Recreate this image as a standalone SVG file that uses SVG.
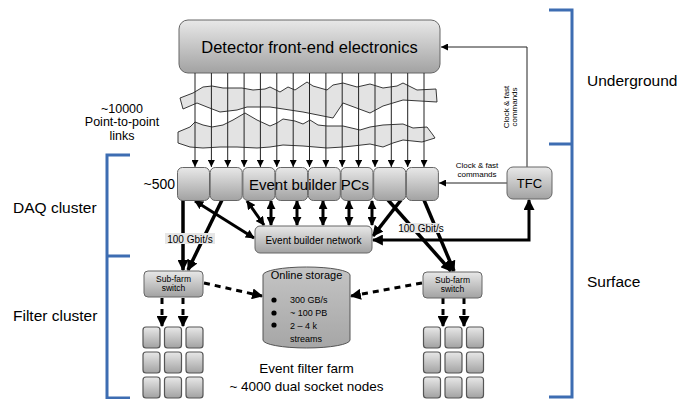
<svg xmlns="http://www.w3.org/2000/svg" width="679" height="399" viewBox="0 0 679 399">
<defs>
<linearGradient id="g" x1="0" y1="0" x2="0" y2="1">
<stop offset="0" stop-color="#e8e8e8"/>
<stop offset="1" stop-color="#a2a2a2"/>
</linearGradient>
<linearGradient id="gc" x1="0" y1="0" x2="0" y2="1">
<stop offset="0" stop-color="#c4c4c4"/>
<stop offset="1" stop-color="#a6a6a6"/>
</linearGradient>
<marker id="at" viewBox="0 0 10 10" markerWidth="7" markerHeight="7" markerUnits="userSpaceOnUse" refX="10" refY="5" orient="auto">
<path d="M0,0 L10,5 L0,10 z" fill="#000"/>
</marker>
<marker id="ab" viewBox="0 0 10 10" markerWidth="11" markerHeight="11" markerUnits="userSpaceOnUse" refX="9" refY="5" orient="auto-start-reverse">
<path d="M0,0 L10,5 L0,10 z" fill="#000"/>
</marker>
<marker id="am" viewBox="0 0 10 10" markerWidth="9" markerHeight="9" markerUnits="userSpaceOnUse" refX="9" refY="5" orient="auto-start-reverse">
<path d="M0,0 L10,5 L0,10 z" fill="#000"/>
</marker>
</defs>
<style>
text{font-family:"Liberation Sans",Arial,sans-serif;fill:#000}
.box{fill:url(#g);stroke:#666;stroke-width:1}
.node{fill:url(#g);stroke:#555;stroke-width:1.2}
.rib{fill:#e3e3e3;stroke:#222;stroke-width:0.9}
.thin{stroke:#222;stroke-width:1;fill:none}
.thick{stroke:#000;stroke-width:3.5;fill:none}
.dbl{stroke:#000;stroke-width:3;fill:none}
.dash{stroke:#000;stroke-width:3;fill:none;stroke-dasharray:6,5}
.br{stroke:#3d6db2;stroke-width:3;fill:none}
.lbl{fill:#e6e6e6}
</style>

<g id="ribbons">
<polygon class="rib" points="180,98 193,93 203,87 212,86 223,88 242,88 253,90 265,89 270,87 280,92 288,87 295,90 307,82 313,86 327,90 333,85 343,83 357,87 370,84 383,88 397,86 403,83 417,90 436,89 437,102 403,100 383,106 370,113 343,103 333,118 303,112 270,107 247,107 237,110 220,112 207,107 197,103 183,109"/>
<polygon class="rib" points="178,132 190,127 195,122 203,125 212,127 223,125 233,120 245,113 257,120 270,126 277,123 283,119 295,121 303,124 310,120 318,125 327,126 343,126 360,130 370,127 383,125 403,124 413,128 427,127 433,135 435,138 422,142 403,140 393,143 383,147 370,144 353,146 343,147 327,148 303,146 283,145 270,147 257,148 237,147 220,147 203,148 190,147 178,143"/>
</g>

<g id="detector">
<rect class="box" x="179" y="20" width="261" height="53" rx="9"/>
<text x="309.5" y="53" font-size="16.5" text-anchor="middle">Detector front-end electronics</text>
</g>

<g id="connectors">
<g class="thin" marker-end="url(#at)">
<line x1="195" y1="73" x2="195" y2="167"/>
<line x1="211.4" y1="73" x2="211.4" y2="167"/>
<line x1="227.7" y1="73" x2="227.7" y2="167"/>
<line x1="244.1" y1="73" x2="244.1" y2="167"/>
<line x1="260.4" y1="73" x2="260.4" y2="167"/>
<line x1="276.8" y1="73" x2="276.8" y2="167"/>
<line x1="293.2" y1="73" x2="293.2" y2="167"/>
<line x1="309.5" y1="73" x2="309.5" y2="167"/>
<line x1="325.9" y1="73" x2="325.9" y2="167"/>
<line x1="342.2" y1="73" x2="342.2" y2="167"/>
<line x1="358.6" y1="73" x2="358.6" y2="167"/>
<line x1="375" y1="73" x2="375" y2="167"/>
<line x1="391.3" y1="73" x2="391.3" y2="167"/>
<line x1="407.7" y1="73" x2="407.7" y2="167"/>
<line x1="424" y1="73" x2="424" y2="167"/>
</g>
<path class="thin" d="M527,167 L527,47 L441,47" marker-end="url(#at)"/>
<line class="thin" x1="507" y1="183" x2="439" y2="183" marker-end="url(#at)"/>

<g class="dbl" marker-start="url(#am)" marker-end="url(#am)">
<line x1="271" y1="201" x2="271" y2="225"/>
<line x1="297" y1="201" x2="297" y2="225"/>
<line x1="323" y1="201" x2="323" y2="225"/>
<line x1="349" y1="201" x2="349" y2="225"/>
<line x1="372" y1="201" x2="372" y2="225"/>
<line x1="247" y1="201" x2="264" y2="225"/>
<line x1="195" y1="201" x2="254" y2="238"/>
</g>
<path class="dbl" d="M373,240 L529,240 L529,200" marker-start="url(#ab)" marker-end="url(#ab)"/>
<g class="thick" marker-end="url(#ab)">
<line x1="183" y1="200" x2="183" y2="270"/>
<line x1="222" y1="200" x2="188" y2="270"/>
<line x1="401" y1="200" x2="373" y2="236"/>
<line x1="388" y1="200" x2="451" y2="271"/>
<line x1="424" y1="200" x2="454" y2="271"/>
</g>
<g class="dash" marker-end="url(#ab)">
<line x1="204" y1="283" x2="262" y2="296"/>
<line x1="422" y1="283" x2="351" y2="296"/>
<line x1="162" y1="298" x2="162" y2="326"/>
<line x1="183" y1="298" x2="183" y2="326"/>
<line x1="443" y1="298" x2="443" y2="326"/>
<line x1="464" y1="298" x2="464" y2="326"/>
</g>
</g>

<g id="clock-labels">
<text transform="translate(509,107) rotate(-90)" font-size="8" text-anchor="middle">Clock &amp; fast</text>
<text transform="translate(517,107) rotate(-90)" font-size="8" text-anchor="middle">commands</text>
<text x="477" y="168" font-size="8" text-anchor="middle">Clock &amp; fast</text>
<text x="477" y="177" font-size="8" text-anchor="middle">commands</text>
</g>

<g id="eb-pcs">
<rect class="box" x="177.5" y="167.5" width="32" height="33" rx="5"/>
<rect class="box" x="210.2" y="167.5" width="32" height="33" rx="5"/>
<rect class="box" x="242.9" y="167.5" width="32" height="33" rx="5"/>
<rect class="box" x="275.6" y="167.5" width="32" height="33" rx="5"/>
<rect class="box" x="308.3" y="167.5" width="32" height="33" rx="5"/>
<rect class="box" x="341" y="167.5" width="32" height="33" rx="5"/>
<rect class="box" x="373.7" y="167.5" width="32" height="33" rx="5"/>
<rect class="box" x="406.4" y="167.5" width="32" height="33" rx="5"/>
<text x="309" y="190" font-size="15" text-anchor="middle">Event builder PCs</text>
<text x="175" y="189" font-size="14" text-anchor="end">~500</text>
</g>

<g id="tfc">
<rect class="box" x="507" y="167" width="45" height="32" rx="6"/>
<text x="529.5" y="188" font-size="13" text-anchor="middle">TFC</text>
</g>

<g id="eb-network">
<rect class="box" x="255" y="226" width="117" height="27" rx="5"/>
<text x="313.5" y="243.5" font-size="10" text-anchor="middle">Event builder network</text>
</g>

<g id="rate-labels">
<rect class="lbl" x="165" y="233" width="50" height="11"/>
<text x="190" y="242.5" font-size="10" text-anchor="middle">100 Gbit/s</text>
<rect class="lbl" x="402" y="223" width="38" height="10"/>
<text x="421" y="232" font-size="10" text-anchor="middle">100 Gbit/s</text>
</g>

<g id="subfarm-left">
<rect class="box" x="144" y="271" width="59" height="26" rx="4"/>
<text x="173.5" y="282" font-size="8.5" text-anchor="middle">Sub-farm</text>
<text x="173.5" y="290.5" font-size="8.5" text-anchor="middle">switch</text>
</g>
<g id="subfarm-right">
<rect class="box" x="423" y="272" width="59" height="26" rx="4"/>
<text x="452.5" y="283" font-size="8.5" text-anchor="middle">Sub-farm</text>
<text x="452.5" y="291.5" font-size="8.5" text-anchor="middle">switch</text>
</g>

<g id="online-storage">
<path d="M263,275 A43.5,8 0 0 1 350,275 L350,340 A43.5,8 0 0 1 263,340 Z" fill="url(#gc)" stroke="#555" stroke-width="1"/>
<text x="306.5" y="279" font-size="11" text-anchor="middle">Online storage</text>
<circle cx="274" cy="300" r="2.6"/>
<circle cx="274" cy="313" r="2.6"/>
<circle cx="274" cy="325" r="2.6"/>
<text x="290" y="303" font-size="9">300 GB/s</text>
<text x="290" y="316" font-size="9">~ 100 PB</text>
<text x="290" y="328.5" font-size="9">2 – 4 k</text>
<text x="290" y="341.5" font-size="9">streams</text>
</g>

<g id="farm-left">
<rect class="node" x="143" y="327" width="17" height="21" rx="3"/>
<rect class="node" x="164.5" y="327" width="17" height="21" rx="3"/>
<rect class="node" x="186" y="327" width="17" height="21" rx="3"/>
<rect class="node" x="143" y="352" width="17" height="21" rx="3"/>
<rect class="node" x="164.5" y="352" width="17" height="21" rx="3"/>
<rect class="node" x="186" y="352" width="17" height="21" rx="3"/>
<rect class="node" x="143" y="377" width="17" height="21" rx="3"/>
<rect class="node" x="164.5" y="377" width="17" height="21" rx="3"/>
<rect class="node" x="186" y="377" width="17" height="21" rx="3"/>
</g>
<g id="farm-right">
<rect class="node" x="423.5" y="327" width="17" height="21" rx="3"/>
<rect class="node" x="445" y="327" width="17" height="21" rx="3"/>
<rect class="node" x="466.5" y="327" width="17" height="21" rx="3"/>
<rect class="node" x="423.5" y="352" width="17" height="21" rx="3"/>
<rect class="node" x="445" y="352" width="17" height="21" rx="3"/>
<rect class="node" x="466.5" y="352" width="17" height="21" rx="3"/>
<rect class="node" x="423.5" y="377" width="17" height="21" rx="3"/>
<rect class="node" x="445" y="377" width="17" height="21" rx="3"/>
<rect class="node" x="466.5" y="377" width="17" height="21" rx="3"/>
</g>

<g id="farm-label">
<text x="306.5" y="373" font-size="13.5" text-anchor="middle">Event filter farm</text>
<text x="306.5" y="391" font-size="13.5" text-anchor="middle">~ 4000 dual socket nodes</text>
</g>

<g id="links-label">
<text x="122" y="112.5" font-size="12.5" text-anchor="middle">~10000</text>
<text x="122" y="126" font-size="12.5" text-anchor="middle">Point-to-point</text>
<text x="122" y="139.5" font-size="12.5" text-anchor="middle">links</text>
</g>

<g id="brackets">
<path class="br" d="M130,155 L107,155 L107,398 L130,398 M107,256 L130,256"/>
<path class="br" d="M549,10 L572,10 L572,397 L549,397 M549,144 L572,144"/>
<text x="13" y="213" font-size="15.5">DAQ cluster</text>
<text x="13" y="321" font-size="15.5">Filter cluster</text>
<text x="587" y="86" font-size="15.5">Underground</text>
<text x="587" y="287" font-size="15.5">Surface</text>
</g>
</svg>
